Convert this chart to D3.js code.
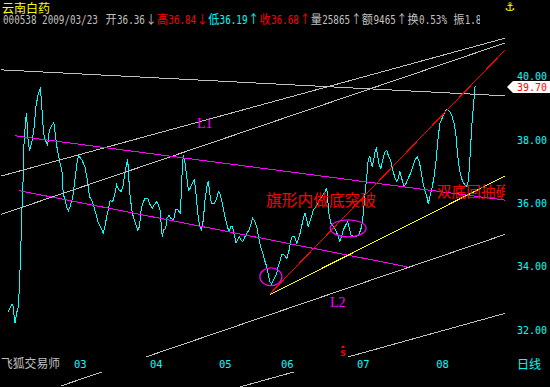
<!DOCTYPE html>
<head>
<meta charset="UTF-8">
<script src="https://d3js.org/d3.v7.min.js"></script>
<style>
  body { margin: 0; background: #000; }
  svg { display: block; }
</style>
</head>
<body>
<div id="my_dataviz"></div>
<script>

// 云南白药 000538 daily line (day = trading day from the left edge)
var days = [0.1,1.2,1.5,2.0,2.5,3.0,3.3,3.7,4.0,4.3,4.6,5.1,5.4,5.7,6.2,6.6,7.2,7.6,8.1,8.6,
  9.1,9.4,9.8,10.1,10.5,11.2,11.5,12.0,12.7,13.3,13.8,14.3,15.1,15.7,16.0,16.5,17.0,17.5,18.0,18.8,
  19.4,20.1,20.5,21.4,22.3,23.0,23.6,24.3,24.9,25.7,26.2,27.2,27.6,28.1,28.6,29.1,29.6,30.1,30.5,31.0,
  31.5,32.2,32.8,33.4,33.9,34.4,34.7,35.1,35.4,35.9,36.3,36.8,37.6,38.1,38.6,38.9,39.7,40.5,41.2,41.8,
  42.4,43.1,43.6,44.1,44.3,44.7,45.1,45.7,46.1,46.7,47.2,48.0,48.6,49.2,49.9,50.1,50.5,50.8,51.3,51.8,
  52.3,52.8,53.4,54.0,54.4,54.9,55.4,56.1,56.6,57.1,57.8,58.1,58.6,59.0,59.7,60.3,61.0,61.4,61.9,62.4,
  62.9,63.6,64.1,64.6,65.1,65.5,66.1,66.5,67.0,67.5,68.0,68.7,69.2,69.9,70.4,70.9,71.6,72.1,72.6,73.0,
  73.5,74.0,74.5,75.0,75.4,75.9,76.4,76.9,77.4,77.9,78.3,78.8,79.3,80.0,80.8,81.5,82.0,82.4,83.0,83.7,
  84.3,84.9,85.3,85.6,86.1,86.6,87.0,87.5,88.0,88.5,89.2,89.8,90.3,90.9,91.7,92.1,92.4,92.7,93.0,93.6,
  94.3,95.0,95.7,96.2,96.7,97.2,97.9,98.5,98.8,99.4,100.1,100.8,101.5,102.0,102.5,103.0,103.5,104.0,104.4,104.9,
  105.2,105.6,106.0,106.4,106.8,107.2,107.6,108.1,108.6,109.3,109.8,110.2,110.9,111.5,112.2,112.7,113.1,113.6,114.1,114.8,
  115.4,116.0,116.7,117.3,118.0,118.6,119.2,119.6,120.0,120.4,120.9,121.4,121.8,122.3,122.8,123.5,124.1,124.7,125.2,126.0,
  126.7,127.2,128.0,128.6,129.3,129.9,130.2,130.6,131.2,131.8,132.5,133.2,133.6,134.0,134.4,134.9,135.2,135.4];
var close = [32.58,32.82,32.74,32.22,32.54,32.74,33.37,34.53,35.69,36.42,37.79,38.63,38.85,38.10,37.68,37.79,38.10,38.42,39.05,39.36,
  39.57,39.63,39.05,38.53,38.10,37.90,37.84,38.31,38.47,38.54,38.10,37.68,37.27,36.96,36.32,36.10,35.89,35.76,35.89,36.21,
  36.74,37.37,37.49,37.37,37.15,36.74,36.21,36.10,35.89,35.58,35.38,35.16,35.06,35.26,35.58,35.79,36.10,36.05,36.10,36.32,
  36.58,36.42,36.37,36.58,36.96,37.27,37.39,36.64,36.21,35.79,35.58,35.42,35.16,35.26,35.79,35.95,36.16,36.16,35.95,35.84,
  35.95,36.05,35.95,35.79,35.47,34.95,35.16,35.21,35.53,35.63,35.53,35.47,35.79,35.79,35.69,36.01,37.05,37.52,37.27,36.84,
  36.42,36.47,36.63,36.74,36.42,35.79,35.37,35.16,35.47,36.10,36.63,36.68,36.21,36.00,35.98,36.10,36.37,36.32,36.10,35.84,
  35.58,35.26,35.10,35.26,35.26,35.05,34.74,34.84,34.95,34.84,34.79,34.95,35.05,35.16,35.32,35.53,35.42,35.26,34.95,34.74,
  34.53,34.37,34.16,34.00,33.79,33.53,33.45,33.58,33.68,33.79,34.00,34.16,34.37,34.37,34.26,34.53,34.84,34.95,34.95,34.74,
  34.90,35.16,35.37,35.53,35.70,35.47,35.26,35.42,35.58,35.79,35.89,36.00,36.10,36.21,36.32,36.42,36.47,36.10,35.68,35.37,
  35.26,35.16,34.95,34.79,34.95,35.16,35.32,35.42,35.26,35.00,34.95,34.95,34.98,35.10,35.26,35.68,36.32,36.84,37.37,37.47,
  37.31,37.15,37.37,37.63,37.74,37.47,37.21,37.10,37.37,37.63,37.68,37.52,37.37,37.05,36.79,36.68,36.79,37.00,36.79,36.52,
  36.63,36.79,36.95,37.15,37.37,37.47,37.31,37.10,36.84,36.58,36.37,36.21,35.98,36.21,36.42,36.84,37.37,38.10,38.52,38.73,
  38.89,38.97,38.89,38.79,38.52,38.10,37.68,37.26,36.89,36.68,36.58,36.52,36.95,37.58,38.42,39.05,39.47,39.70];

// axis labels
var yTicks = [32, 34, 36, 38, 40];
var monthDays = [19, 41, 61, 79, 101, 124];
var monthLabels = ["03", "04", "05", "06", "07", "08"];
var lastPrice = 39.70;

// trend lines drawn on the chart: [day1, price1, day2, price2]
var grayLines = [
  [-2.0, 40.21, 144.1, 39.39],
  [-2.0, 36.86, 144.1, 41.21],
  [-2.0, 35.65, 144.1, 41.06],
  [15.4, 30.24, 144.1, 35.02],
  [67.0, 30.20, 144.1, 32.53]
];
var magentaLines = [
  [2.0, 38.13, 144.1, 36.10],
  [3.2, 36.40, 115.6, 34.00]
];
var redLine = [75.9, 33.14, 144.1, 40.84];
var yellowLine = [75.9, 33.12, 144.1, 36.86];

// circled bottoms: [day, price, half-width in days, half-height in price]
var circles = [
  [76.2, 33.68, 3.2, 0.28],
  [98.6, 35.21, 5.2, 0.27]
];

// header quote line: [text, colour]
var header = [
  ["000538 2009/03/23 开36.36↓", "#c0c0c0"],
  ["高36.84↓", "#ff0000"],
  ["低36.19↑", "#00ffff"],
  ["收36.68↑", "#ff0000"],
  ["量25865↑额9465↑换0.53% 振1.8", "#c0c0c0"]
];

var width = 550, height = 387;
var plotRight = 505;

var svg = d3.select("#my_dataviz")
  .append("svg")
    .attr("width", width)
    .attr("height", height)
    .style("background", "#000");

var x = d3.scaleLinear().domain([0, 144]).range([8, 8 + 144 * 3.45]);
var y = d3.scaleLinear().domain([32, 40]).range([330.1, 76.5]);

svg.append("clipPath").attr("id", "plotclip")
  .append("rect").attr("x", 0).attr("y", 28).attr("width", plotRight).attr("height", height - 28);

var plot = svg.append("g").attr("clip-path", "url(#plotclip)");

// price line
var line = d3.line()
  .x(function(d) { return x(d[0]); })
  .y(function(d) { return y(d[1]); });

plot.append("path")
  .datum(days.map(function(d, i) { return [d, close[i]]; }))
  .attr("d", line)
  .attr("fill", "none")
  .attr("stroke", "#00ffff")
  .attr("stroke-width", 1)
  .style("shape-rendering", "crispEdges");

function drawSeg(s, color) {
  plot.append("line")
    .attr("x1", x(s[0])).attr("y1", y(s[1]))
    .attr("x2", x(s[2])).attr("y2", y(s[3]))
    .attr("stroke", color)
    .attr("stroke-width", 1)
    .style("shape-rendering", "crispEdges");
}
grayLines.forEach(function(s) { drawSeg(s, "#c0c0c0"); });
magentaLines.forEach(function(s) { drawSeg(s, "#ff00ff"); });
drawSeg(redLine, "#ff0000");
drawSeg(yellowLine, "#ffff00");

plot.selectAll(".circ")
  .data(circles)
  .enter()
  .append("ellipse")
    .attr("cx", function(d) { return x(d[0]); })
    .attr("cy", function(d) { return y(d[1]); })
    .attr("rx", function(d) { return x(d[0] + d[2]) - x(d[0]); })
    .attr("ry", function(d) { return y(d[1] - d[3]) - y(d[1]); })
    .attr("fill", "none")
    .attr("stroke", "#ff00ff")
    .attr("stroke-width", 1.2);

// annotations
plot.append("text")
  .attr("x", x(54.8)).attr("y", y(38.37))
  .style("font-family", "Liberation Serif").style("font-size", "14px")
  .attr("fill", "#ff00ff").text("L1");
plot.append("text")
  .attr("x", x(93.3)).attr("y", y(32.73))
  .style("font-family", "Liberation Serif").style("font-size", "14px")
  .attr("fill", "#ff00ff").text("L2");
plot.append("text")
  .attr("x", x(74.8)).attr("y", y(35.93))
  .attr("textLength", 110).attr("lengthAdjust", "spacingAndGlyphs")
  .style("font-family", "Noto Sans CJK SC").style("font-size", "16px")
  .attr("fill", "#ff0000").text("旗形内做底突破");
plot.append("text")
  .attr("x", x(124.3)).attr("y", y(36.20))
  .attr("textLength", 88).attr("lengthAdjust", "spacingAndGlyphs")
  .style("font-family", "Noto Sans CJK SC").style("font-size", "15px")
  .attr("fill", "#ff0000").text("双底回抽确认");

// x axis strip covers the lines
svg.append("rect")
  .attr("x", 0).attr("y", 357).attr("width", plotRight).attr("height", 15)
  .attr("fill", "#000");

// sell mark
svg.append("text")
  .attr("x", x(97.1)).attr("y", 356)
  .attr("text-anchor", "middle")
  .style("font-family", "DejaVu Sans Mono").style("font-size", "10px").style("font-weight", "bold")
  .attr("fill", "#ff0000").text("s");
svg.append("path")
  .attr("d", "M" + (x(97.1) - 2) + ",348L" + x(97.1) + ",345L" + (x(97.1) + 2) + ",348Z")
  .attr("fill", "#ff0000");

// y axis on the right
var yAxis = svg.append("g")
  .attr("transform", "translate(" + plotRight + ",0)")
  .call(d3.axisRight(y).tickValues(yTicks).tickFormat(d3.format(".2f")).tickSize(0).tickPadding(12));
yAxis.select(".domain").remove();
yAxis.selectAll("text")
  .attr("fill", "#00ffff")
  .style("font-family", "DejaVu Sans Mono").style("font-size", "10px");

// x axis months
var xAxis = svg.append("g")
  .attr("transform", "translate(0,360.6)")
  .call(d3.axisBottom(x).tickValues(monthDays)
    .tickFormat(function(d, i) { return monthLabels[i]; }).tickSize(0).tickPadding(0));
xAxis.select(".domain").remove();
xAxis.selectAll("text")
  .attr("text-anchor", "start")
  .attr("fill", "#00ffff")
  .style("font-family", "DejaVu Sans Mono").style("font-size", "10.5px");

svg.append("text")
  .attr("x", 1).attr("y", 368)
  .attr("textLength", 59).attr("lengthAdjust", "spacingAndGlyphs")
  .style("font-family", "Noto Sans CJK SC").style("font-size", "12px")
  .attr("fill", "#c0c0c0").text("飞狐交易师");
svg.append("text")
  .attr("x", 517).attr("y", 368.5)
  .style("font-family", "Noto Sans CJK SC").style("font-size", "12px")
  .attr("fill", "#00ffff").text("日线");

// last price box
var cy = y(lastPrice) + 1;
svg.append("path")
  .attr("d", "M507," + cy + "L513," + (cy - 6) + "L550," + (cy - 6) + "L550," + (cy + 6) + "L513," + (cy + 6) + "Z")
  .attr("fill", "#ffffff");
svg.append("text")
  .attr("x", 517).attr("y", cy).attr("dy", "0.35em")
  .style("font-family", "DejaVu Sans Mono").style("font-size", "10px")
  .attr("fill", "#ff0000").text(lastPrice.toFixed(2));

// title
svg.append("text")
  .attr("x", 2).attr("y", 12.5)
  .style("font-family", "Noto Sans CJK SC").style("font-size", "12px")
  .attr("fill", "#ffff00").text("云南白药");
svg.append("text")
  .attr("x", 510).attr("y", 11)
  .attr("text-anchor", "middle")
  .style("font-family", "DejaVu Sans").style("font-size", "12px")
  .attr("fill", "#ffff00").text("⚓");

// quote line, ascii cells 5.7px, wide chars 11.4px, squeezed to fit each cell run
svg.append("clipPath").attr("id", "headclip")
  .append("rect").attr("x", 0).attr("y", 12).attr("width", 480).attr("height", 16);
var head = svg.append("g").attr("clip-path", "url(#headclip)");
var cursor = 3;
header.forEach(function(h) {
  var runs = h[0].match(/[\x00-\x7f]+|[^\x00-\x7f]+/g);
  runs.forEach(function(r) {
    var ascii = /^[\x00-\x7f]/.test(r);
    var w = r.length * (ascii ? 5.7 : 11.4);
    var t = head.append("text")
      .style("font-family", ascii ? "DejaVu Sans Mono" : "Noto Sans CJK SC")
      .style("font-size", ascii ? "13px" : "12px")
      .style("white-space", "pre")
      .attr("fill", h[1])
      .text(r);
    var natural = t.node().getComputedTextLength() || w;
    t.attr("transform", "translate(" + cursor + ",24) scale(" + (w / natural) * 0.98 + ",1)");
    cursor += w;
  });
});

</script>
</body>
